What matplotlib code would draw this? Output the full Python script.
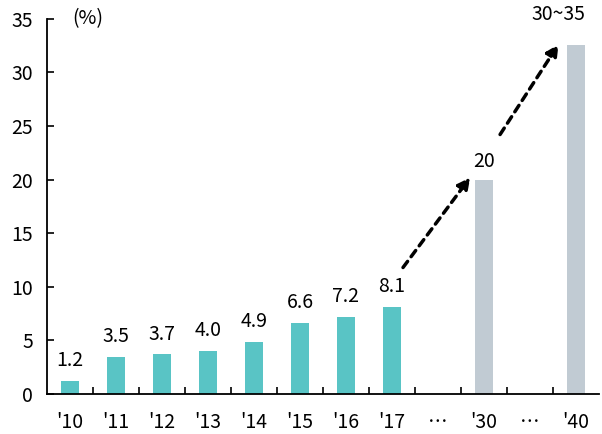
import matplotlib.pyplot as plt
import numpy as np

plt.rcParams['font.family'] = ['Noto Sans CJK KR', 'DejaVu Sans']

years = ["'10", "'11", "'12", "'13", "'14", "'15", "'16", "'17", "…", "'30", "…", "'40"]
actual = [1.2, 3.5, 3.7, 4.0, 4.9, 6.6, 7.2, 8.1]
forecast_pos = [9, 11]
forecast = [20, 32.5]
forecast_labels = ['20', '30~35']

teal = '#59c4c5'
grey = '#c1cbd3'
bw = 0.39

fig = plt.figure(figsize=(6.02, 4.34), dpi=100)
ax = fig.add_axes([0.078, 0.092, 0.917, 0.865])

x = np.arange(len(actual))
ax.bar(x, actual, width=bw, color=teal)
for xi, v in zip(x, actual):
    ax.text(xi, v + 1.9, f'{v:.1f}', ha='center', va='center', fontsize=14)

ax.bar(forecast_pos, forecast, width=bw, color=grey)
ax.text(forecast_pos[0], forecast[0] + 1.7, forecast_labels[0],
        ha='center', va='center', fontsize=14)
# the range label sits flush with the right edge of its bar
ax.text(forecast_pos[1] + bw / 2, forecast[1] + 2.9, forecast_labels[1],
        ha='right', va='center', fontsize=14)

# dashed trend arrows
arr = dict(arrowstyle='-|>', linestyle=(0, (2.2, 1.7)), lw=2.5, color='black',
           mutation_scale=18, shrinkA=0, shrinkB=0)
ax.annotate('', xy=(8.7, 20.2), xytext=(7.24, 11.8), arrowprops=arr)
ax.annotate('', xy=(10.62, 32.6), xytext=(9.35, 24.2), arrowprops=arr)

ax.set_xlim(-0.5, 11.5)
ax.set_ylim(0, 35)
ax.set_yticks(range(0, 36, 5))
ax.set_xticks(range(len(years)))
ax.set_xticklabels(years)
ax.set_xticks(np.arange(0.5, 11.5, 1), minor=True)
ax.tick_params(axis='x', which='major', length=0, pad=13, labelsize=14)
ax.tick_params(axis='x', which='minor', direction='in', length=5, width=1.2)
ax.tick_params(axis='y', direction='in', length=5, width=1.2, pad=10, labelsize=14)

for s in ['top', 'right']:
    ax.spines[s].set_visible(False)
for s in ['left', 'bottom']:
    ax.spines[s].set_linewidth(1.3)

ax.text(0.05, 35, '(%)', ha='left', va='center', fontsize=14)

fig.savefig('out.png', dpi=100)
